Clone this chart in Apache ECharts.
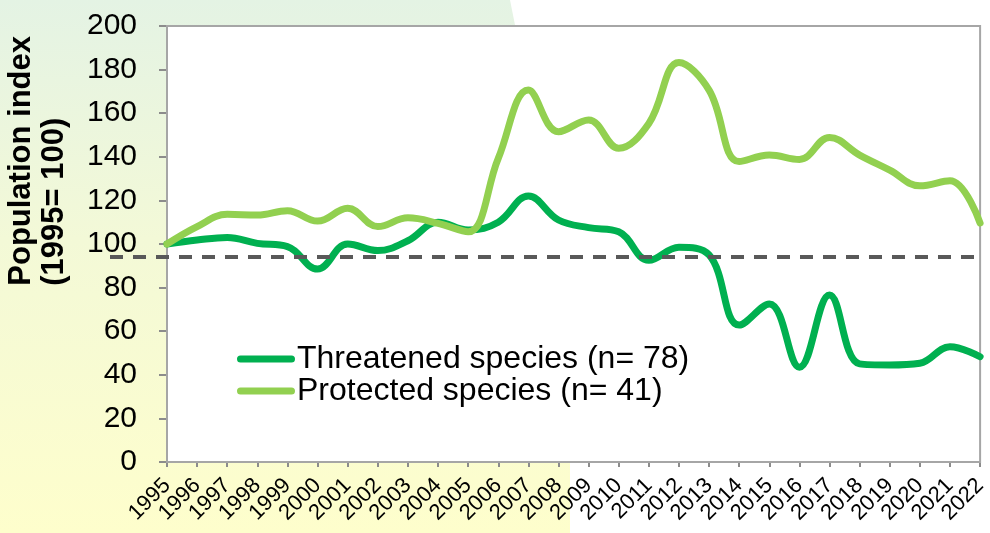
<!DOCTYPE html>
<html><head><meta charset="utf-8">
<script src="https://cdn.jsdelivr.net/npm/echarts@6/dist/echarts.min.js"></script>
<style>html,body{margin:0;padding:0;background:#fff}#c{width:990px;height:533px}</style>
</head><body><div id="c"></div>
<script>
const years = ['1995','1996','1997','1998','1999','2000','2001','2002','2003','2004','2005','2006','2007','2008','2009','2010','2011','2012','2013','2014','2015','2016','2017','2018','2019','2020','2021','2022'];
const threatened = [100, 101.8, 103, 100.3, 98.8, 88.5, 100, 97, 101.5, 110, 106.4, 110, 122, 111, 107.5, 105.6, 92.5, 98.5, 95, 62.8, 72.5, 43.5, 76.6, 45, 44.5, 45.3, 52.9, 48.3];
const protectedSp = [100, 108, 113.6, 113.3, 115.3, 110.5, 116.4, 108, 112, 109.5, 105.6, 139.3, 170.6, 151.5, 156.9, 143.9, 155.3, 183.2, 170.6, 137.8, 140.8, 138.8, 148.9, 140.8, 133.9, 126.7, 129, 109.6];
const seriesNames = ['Threatened species (n= 78)', 'Protected species (n= 41)'];
const refValue = 94;
const yMin = 0, yMax = 200, yStep = 20;
const yTitle = 'Population index\n(1995= 100)';

const chart = echarts.init(document.getElementById('c'));
const legendIcon = 'path://M3.5,0 H54.5 A3.5,3.5 0 0 1 54.5,7 H3.5 A3.5,3.5 0 0 1 3.5,0 Z';
const option = {
  animation: false,
  backgroundColor: '#ffffff',
  grid: { left: 167, right: 3, top: 26, bottom: 71, show: true, backgroundColor: '#ffffff', borderColor: '#A6A6A6', borderWidth: 2, z: 2 },
  legend: {
    orient: 'vertical', left: 232, top: 338, itemGap: 0,
    itemWidth: 58, itemHeight: 7, icon: legendIcon,
    textStyle: { fontFamily: 'Liberation Sans, Arial', fontSize: 32, color: '#000', lineHeight: 32, padding: [0,0,0,-3] },
    data: seriesNames
  },
  xAxis: {
    type: 'category', data: years, boundaryGap: false,
    axisLine: { lineStyle: { color: '#8C8C8C', width: 2 } },
    axisTick: { show: true, length: 5, alignWithLabel: true, lineStyle: { color: '#8C8C8C', width: 2 } },
    axisLabel: { interval: 0, rotate: 45, margin: 20, fontFamily: 'Liberation Sans, Arial', fontSize: 22, color: '#000' },
    splitLine: { show: false }
  },
  yAxis: {
    type: 'value', min: yMin, max: yMax, interval: yStep,
    axisLine: { show: true, lineStyle: { color: '#8C8C8C', width: 2 } },
    axisTick: { show: true, length: 8, lineStyle: { color: '#8C8C8C', width: 2 } },
    axisLabel: { margin: 30, fontFamily: 'Liberation Sans, Arial', fontSize: 30, color: '#000' },
    splitLine: { show: false }
  },
  graphic: [
    { type: 'polygon', z: -10, silent: true,
      shape: { points: [[0,0],[510,0],[570,300],[570,533],[0,533]] },
      style: { fill: new echarts.graphic.LinearGradient(0,0,0,1,[
        {offset:0,color:'#E4F3E4'},{offset:0.45,color:'#F3F9D7'},{offset:1,color:'#FEFECC'}]) } },
    { type: 'text', z: 10, left: 5, top: 36, rotation: Math.PI/2,
      style: { text: yTitle, fontFamily: 'Liberation Sans, Arial', fontWeight: 'bold', fontSize: 31, lineHeight: 33, fill: '#000', textAlign: 'center' } }
  ],
  series: [
    { name: seriesNames[0], type: 'line', data: threatened, smooth: 0.4, symbol: 'none', z: 3,
      lineStyle: { color: '#00B050', width: 7, cap: 'round', join: 'round' }, itemStyle: { color: '#00B050' } },
    { name: seriesNames[1], type: 'line', data: protectedSp, smooth: 0.4, symbol: 'none', z: 4,
      lineStyle: { color: '#92D050', width: 7, cap: 'round', join: 'round' }, itemStyle: { color: '#92D050' } }
  ]
};
chart.setOption(option);
const yRef = chart.convertToPixel({ yAxisIndex: 0 }, refValue);
const xEnd = chart.convertToPixel({ xAxisIndex: 0 }, years[years.length - 1]);
chart.setOption({ graphic: [ {}, {}, { type: 'line', z: 20, silent: true,
  shape: { x1: 110, y1: yRef, x2: xEnd, y2: yRef },
  style: { stroke: '#595959', lineWidth: 4, lineDash: [13, 10] } } ] });
</script></body></html>
